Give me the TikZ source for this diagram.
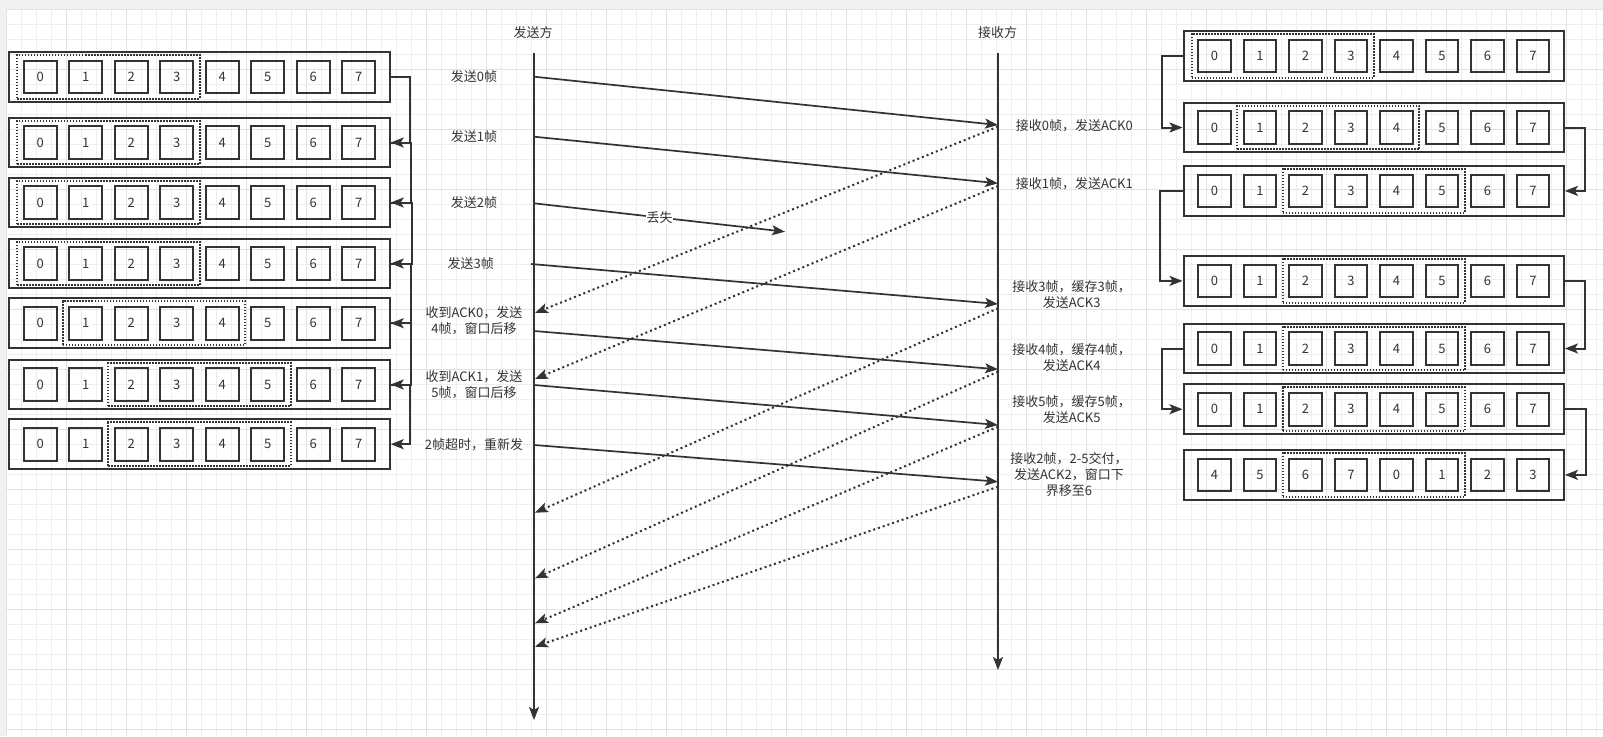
\documentclass[tikz,border=0pt]{standalone}
\usepackage{fontspec}
\setmainfont{Noto Sans CJK SC}
\usetikzlibrary{arrows.meta,fit}
\definecolor{ink}{HTML}{333333}
\definecolor{gridminor}{HTML}{EEEEEE}
\definecolor{gridmajor}{HTML}{E2E2E2}
\definecolor{outside}{HTML}{F1F1F1}
\newcommand{\winrow}[5]{%
  \node[rowbox] (#1) at (#2,#3) {};
  \foreach \lab [count=\ci from 0] in {#5} {
    \node[cellbox] (#1-\ci) at ({#2-159.25+45.5*\ci},#3) {\lab};
  }
  \pgfmathtruncatemacro{\mywend}{#4+3}
  \node[winbox, fit=(#1-#4)(#1-\mywend)] (#1-win) {};
}
\begin{document}
\begin{tikzpicture}[x=1pt,y=-1pt,
  txt/.style={text=ink, font=\fontsize{13}{16}\selectfont, inner sep=1pt, align=center},
  rowbox/.style={draw=ink, line width=2pt, minimum width=380.4pt, minimum height=49.7pt, inner sep=0pt},
  cellbox/.style={draw=ink, line width=2pt, minimum size=32.7pt, inner sep=0pt, text=ink, font=\fontsize{13}{14}\selectfont},
  winbox/.style={draw=ink, line width=2pt, dash pattern=on 1.5pt off 1.5pt, inner xsep=5.5pt, inner ysep=4.5pt},
  tip/.style={-{Stealth[length=13pt,width=10pt,inset=3pt]}},
  conn/.style={draw=ink, line width=2pt, tip},
  frame/.style={draw=ink, line width=1.7pt, tip},
  ack/.style={draw=ink, line width=2pt, dash pattern=on 2pt off 3pt, tip},
  tl/.style={draw=ink, line width=2pt, tip}
]
\useasboundingbox (0,0) rectangle (1603,736);
% background grid
\fill[outside] (0,0) rectangle (1603,736);
\fill[white] (6.7,9.3) rectangle (1603,736);
\foreach \i in {0,...,106} \draw[gridminor, line width=1pt] ({6.7+15*\i},9.3) -- ({6.7+15*\i},736);
\foreach \j in {0,...,48} \draw[gridminor, line width=1pt] (6.7,{9.3+15*\j}) -- (1603,{9.3+15*\j});
\foreach \i in {0,4,...,104} \draw[gridmajor, line width=1pt] ({6.7+15*\i},9.3) -- ({6.7+15*\i},736);
\foreach \j in {0,4,...,48} \draw[gridmajor, line width=1pt] (6.7,{9.3+15*\j}) -- (1603,{9.3+15*\j});

% left (sender) windows
\winrow{L1}{199.5}{76.9}{0}{0,1,2,3,4,5,6,7}
\winrow{L2}{199.5}{142.5}{0}{0,1,2,3,4,5,6,7}
\winrow{L3}{199.5}{202.5}{0}{0,1,2,3,4,5,6,7}
\winrow{L4}{199.5}{263.5}{0}{0,1,2,3,4,5,6,7}
\winrow{L5}{199.5}{323.2}{1}{0,1,2,3,4,5,6,7}
\winrow{L6}{199.5}{384.5}{2}{0,1,2,3,4,5,6,7}
\winrow{L7}{199.5}{444.2}{2}{0,1,2,3,4,5,6,7}
\draw[conn] (L1.east) -- ++(19.5,0) |- (L2.east);
\draw[conn] (L2.east) -- ++(20.5,0) |- (L3.east);
\draw[conn] (L3.east) -- ++(21.5,0) |- (L4.east);
\draw[conn] (L4.east) -- ++(20,0) |- (L5.east);
\draw[conn] (L5.east) -- ++(20,0) |- (L6.east);
\draw[conn] (L6.east) -- ++(19,0) |- (L7.east);

% right (receiver) windows
\winrow{R1}{1373.7}{55.9}{0}{0,1,2,3,4,5,6,7}
\winrow{R2}{1373.7}{127.5}{1}{0,1,2,3,4,5,6,7}
\winrow{R3}{1373.7}{190.9}{2}{0,1,2,3,4,5,6,7}
\winrow{R4}{1373.7}{280.9}{2}{0,1,2,3,4,5,6,7}
\winrow{R5}{1373.7}{348.5}{2}{0,1,2,3,4,5,6,7}
\winrow{R6}{1373.7}{409.2}{2}{0,1,2,3,4,5,6,7}
\winrow{R7}{1373.7}{474.9}{2}{4,5,6,7,0,1,2,3}
\draw[conn] (R1.west) -- ++(-21,0) |- (R2.west);
\draw[conn] (R2.east) -- ++(20,0) |- (R3.east);
\draw[conn] (R3.west) -- ++(-23,0) |- (R4.west);
\draw[conn] (R4.east) -- ++(20,0) |- (R5.east);
\draw[conn] (R5.west) -- ++(-21,0) |- (R6.west);
\draw[conn] (R6.east) -- ++(21.5,0) |- (R7.east);

% timelines
\node[txt] (sname) at (533,32.7) {发送方};
\node[txt] (rname) at (997.5,32.7) {接收方};
\coordinate (stop) at (534,53.3);
\coordinate (sbot) at (534,720);
\coordinate (rtop) at (998,53.3);
\coordinate (rbot) at (998,670);
\draw[tl] (stop) -- (sbot);
\draw[tl] (rtop) -- (rbot);

% sender-side points
\coordinate (s0) at (534,76.7);
\coordinate (s1) at (534,136.7);
\coordinate (s2) at (534,203.3);
\coordinate (s3) at (531,264);
\coordinate (s4) at (534,331);
\coordinate (s5) at (534,385);
\coordinate (s2r) at (534,445);
\coordinate (lost) at (785,231.7);
\coordinate (sa0) at (535,313);
\coordinate (sa1) at (535,379);
\coordinate (sa3) at (535,512.7);
\coordinate (sa4) at (535,578.3);
\coordinate (sa5) at (535,623.3);
\coordinate (sa2) at (535,646.7);
% receiver-side points
\coordinate (r0) at (998,125);
\coordinate (r1) at (998,183.3);
\coordinate (r3) at (998,304);
\coordinate (r4) at (998,369.3);
\coordinate (r5) at (998,425);
\coordinate (r2r) at (998,481.7);
\coordinate (ra0) at (998,126.7);
\coordinate (ra1) at (998,186);
\coordinate (ra3) at (998,308.3);
\coordinate (ra4) at (998,371.7);
\coordinate (ra5) at (998,426.7);
\coordinate (ra2) at (998,486.7);

% data frames
\draw[frame] (s0) -- (r0);
\draw[frame] (s1) -- (r1);
\draw[frame] (s2) -- node[txt, fill=white, inner sep=0.5pt, pos=0.5] (lostlab) {丢失} (lost);
\draw[frame] (s3) -- (r3);
\draw[frame] (s4) -- (r4);
\draw[frame] (s5) -- (r5);
\draw[frame] (s2r) -- (r2r);

% acknowledgements
\draw[ack] (ra0) -- (sa0);
\draw[ack] (ra1) -- (sa1);
\draw[ack] (ra3) -- (sa3);
\draw[ack] (ra4) -- (sa4);
\draw[ack] (ra5) -- (sa5);
\draw[ack] (ra2) -- (sa2);

% sender labels
\node[txt] (t0) at (474,76.7) {发送0帧};
\node[txt] (t1) at (474,136.7) {发送1帧};
\node[txt] (t2) at (474,202.7) {发送2帧};
\node[txt] (t3) at (470.7,264) {发送3帧};
\node[txt] (t4) at (474,321) {收到ACK0，发送\\4帧，窗口后移};
\node[txt] (t5) at (474,385) {收到ACK1，发送\\5帧，窗口后移};
\node[txt] (t6) at (474,445) {2帧超时，重新发};

% receiver labels
\node[txt] (u0) at (1074.3,126) {接收0帧，发送ACK0};
\node[txt] (u1) at (1074.3,184) {接收1帧，发送ACK1};
\node[txt] (u3) at (1071.7,294.7) {接收3帧，缓存3帧，\\发送ACK3};
\node[txt] (u4) at (1071.7,357.2) {接收4帧，缓存4帧，\\发送ACK4};
\node[txt] (u5) at (1071.7,409.5) {接收5帧，缓存5帧，\\发送ACK5};
\node[txt] (u2) at (1069,475) {接收2帧，2-5交付，\\发送ACK2，窗口下\\界移至6};
\end{tikzpicture}
\end{document}
